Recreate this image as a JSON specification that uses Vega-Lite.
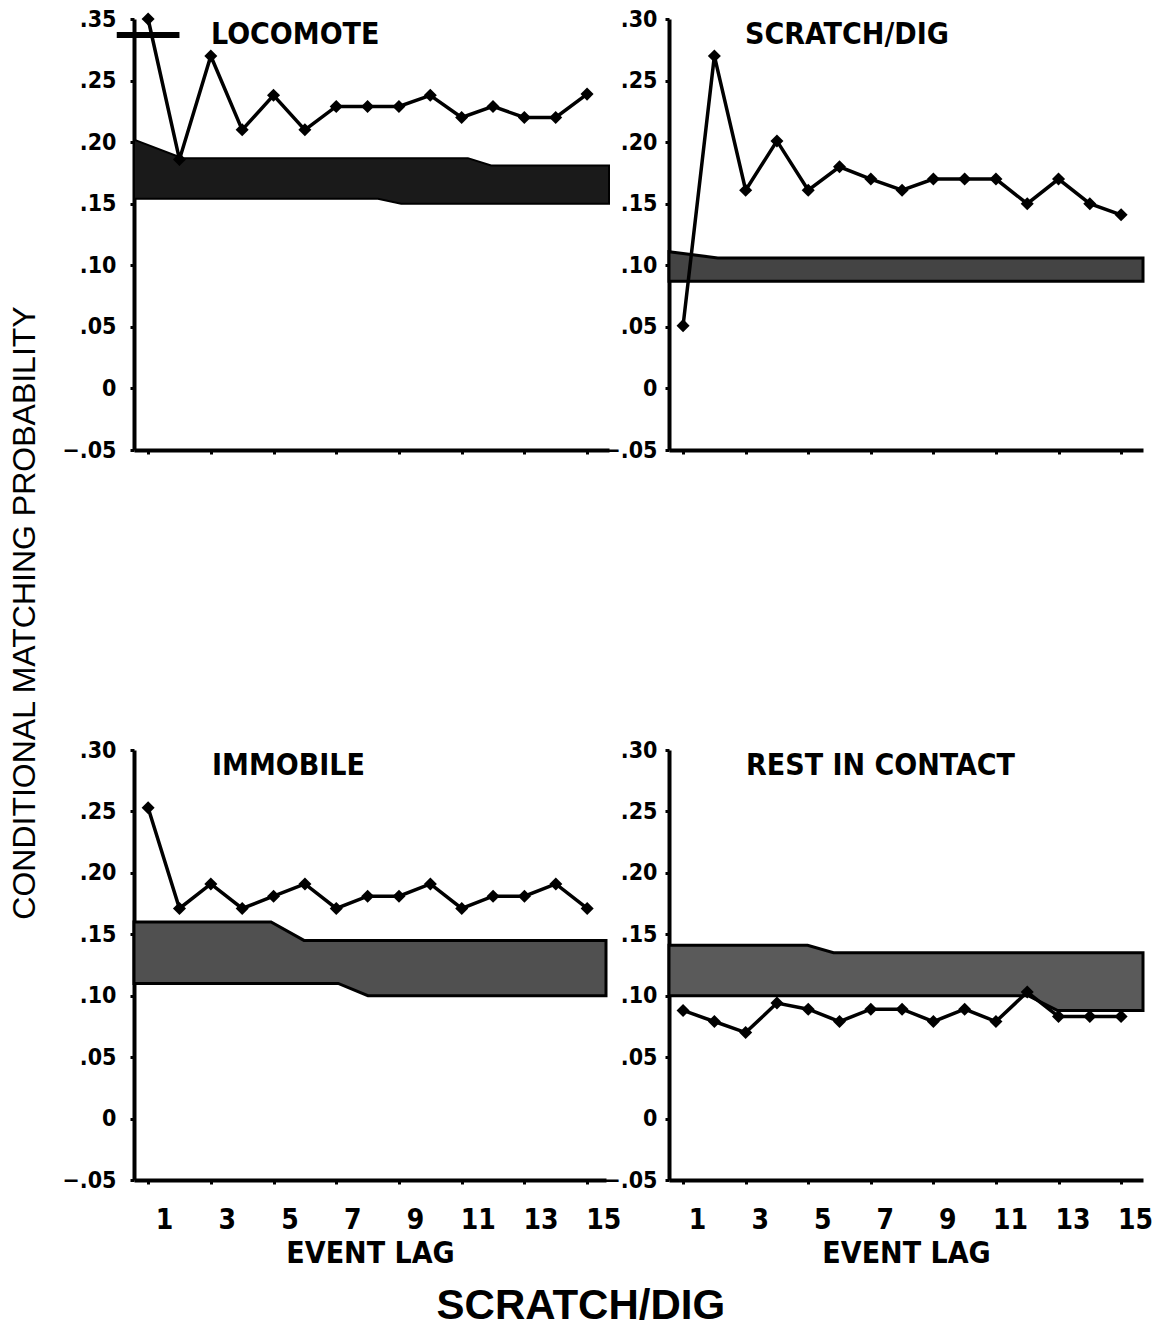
{
  "$schema": "https://vega.github.io/schema/vega-lite/v6.json",
  "background": "white",
  "padding": {"left": 9, "top": 8, "right": 2, "bottom": 5},
  "datasets": {
    "series": [
      {"panel": "LOCOMOTE", "lag": 1, "p": 0.30},
      {"panel": "LOCOMOTE", "lag": 2, "p": 0.186},
      {"panel": "LOCOMOTE", "lag": 3, "p": 0.27},
      {"panel": "LOCOMOTE", "lag": 4, "p": 0.21},
      {"panel": "LOCOMOTE", "lag": 5, "p": 0.238},
      {"panel": "LOCOMOTE", "lag": 6, "p": 0.21},
      {"panel": "LOCOMOTE", "lag": 7, "p": 0.229},
      {"panel": "LOCOMOTE", "lag": 8, "p": 0.229},
      {"panel": "LOCOMOTE", "lag": 9, "p": 0.229},
      {"panel": "LOCOMOTE", "lag": 10, "p": 0.238},
      {"panel": "LOCOMOTE", "lag": 11, "p": 0.22},
      {"panel": "LOCOMOTE", "lag": 12, "p": 0.229},
      {"panel": "LOCOMOTE", "lag": 13, "p": 0.22},
      {"panel": "LOCOMOTE", "lag": 14, "p": 0.22},
      {"panel": "LOCOMOTE", "lag": 15, "p": 0.239},
      {"panel": "SCRATCH/DIG", "lag": 1, "p": 0.051},
      {"panel": "SCRATCH/DIG", "lag": 2, "p": 0.27},
      {"panel": "SCRATCH/DIG", "lag": 3, "p": 0.161},
      {"panel": "SCRATCH/DIG", "lag": 4, "p": 0.201},
      {"panel": "SCRATCH/DIG", "lag": 5, "p": 0.161},
      {"panel": "SCRATCH/DIG", "lag": 6, "p": 0.18},
      {"panel": "SCRATCH/DIG", "lag": 7, "p": 0.17},
      {"panel": "SCRATCH/DIG", "lag": 8, "p": 0.161},
      {"panel": "SCRATCH/DIG", "lag": 9, "p": 0.17},
      {"panel": "SCRATCH/DIG", "lag": 10, "p": 0.17},
      {"panel": "SCRATCH/DIG", "lag": 11, "p": 0.17},
      {"panel": "SCRATCH/DIG", "lag": 12, "p": 0.15},
      {"panel": "SCRATCH/DIG", "lag": 13, "p": 0.17},
      {"panel": "SCRATCH/DIG", "lag": 14, "p": 0.15},
      {"panel": "SCRATCH/DIG", "lag": 15, "p": 0.141},
      {"panel": "IMMOBILE", "lag": 1, "p": 0.253},
      {"panel": "IMMOBILE", "lag": 2, "p": 0.171},
      {"panel": "IMMOBILE", "lag": 3, "p": 0.191},
      {"panel": "IMMOBILE", "lag": 4, "p": 0.171},
      {"panel": "IMMOBILE", "lag": 5, "p": 0.181},
      {"panel": "IMMOBILE", "lag": 6, "p": 0.191},
      {"panel": "IMMOBILE", "lag": 7, "p": 0.171},
      {"panel": "IMMOBILE", "lag": 8, "p": 0.181},
      {"panel": "IMMOBILE", "lag": 9, "p": 0.181},
      {"panel": "IMMOBILE", "lag": 10, "p": 0.191},
      {"panel": "IMMOBILE", "lag": 11, "p": 0.171},
      {"panel": "IMMOBILE", "lag": 12, "p": 0.181},
      {"panel": "IMMOBILE", "lag": 13, "p": 0.181},
      {"panel": "IMMOBILE", "lag": 14, "p": 0.191},
      {"panel": "IMMOBILE", "lag": 15, "p": 0.171},
      {"panel": "REST IN CONTACT", "lag": 1, "p": 0.088},
      {"panel": "REST IN CONTACT", "lag": 2, "p": 0.079},
      {"panel": "REST IN CONTACT", "lag": 3, "p": 0.07},
      {"panel": "REST IN CONTACT", "lag": 4, "p": 0.094},
      {"panel": "REST IN CONTACT", "lag": 5, "p": 0.089},
      {"panel": "REST IN CONTACT", "lag": 6, "p": 0.079},
      {"panel": "REST IN CONTACT", "lag": 7, "p": 0.089},
      {"panel": "REST IN CONTACT", "lag": 8, "p": 0.089},
      {"panel": "REST IN CONTACT", "lag": 9, "p": 0.079},
      {"panel": "REST IN CONTACT", "lag": 10, "p": 0.089},
      {"panel": "REST IN CONTACT", "lag": 11, "p": 0.079},
      {"panel": "REST IN CONTACT", "lag": 12, "p": 0.103},
      {"panel": "REST IN CONTACT", "lag": 13, "p": 0.083},
      {"panel": "REST IN CONTACT", "lag": 14, "p": 0.083},
      {"panel": "REST IN CONTACT", "lag": 15, "p": 0.083}
    ],
    "bands": [
      {"panel": "LOCOMOTE", "lag": 0.55, "lo": 0.154, "hi": 0.202},
      {"panel": "LOCOMOTE", "lag": 2.1, "lo": 0.154, "hi": 0.187},
      {"panel": "LOCOMOTE", "lag": 8.33, "lo": 0.154, "hi": 0.187},
      {"panel": "LOCOMOTE", "lag": 9.07, "lo": 0.150, "hi": 0.187},
      {"panel": "LOCOMOTE", "lag": 11.2, "lo": 0.150, "hi": 0.187},
      {"panel": "LOCOMOTE", "lag": 11.94, "lo": 0.150, "hi": 0.181},
      {"panel": "LOCOMOTE", "lag": 15.7, "lo": 0.150, "hi": 0.181},
      {"panel": "SCRATCH/DIG", "lag": 0.55, "lo": 0.087, "hi": 0.111},
      {"panel": "SCRATCH/DIG", "lag": 2.11, "lo": 0.087, "hi": 0.106},
      {"panel": "SCRATCH/DIG", "lag": 15.7, "lo": 0.087, "hi": 0.106},
      {"panel": "IMMOBILE", "lag": 0.55, "lo": 0.11, "hi": 0.16},
      {"panel": "IMMOBILE", "lag": 4.92, "lo": 0.11, "hi": 0.16},
      {"panel": "IMMOBILE", "lag": 5.97, "lo": 0.11, "hi": 0.145},
      {"panel": "IMMOBILE", "lag": 7.06, "lo": 0.11, "hi": 0.145},
      {"panel": "IMMOBILE", "lag": 8.01, "lo": 0.10, "hi": 0.145},
      {"panel": "IMMOBILE", "lag": 15.6, "lo": 0.10, "hi": 0.145},
      {"panel": "REST IN CONTACT", "lag": 0.55, "lo": 0.10, "hi": 0.141},
      {"panel": "REST IN CONTACT", "lag": 4.98, "lo": 0.10, "hi": 0.141},
      {"panel": "REST IN CONTACT", "lag": 5.81, "lo": 0.10, "hi": 0.135},
      {"panel": "REST IN CONTACT", "lag": 12.03, "lo": 0.10, "hi": 0.135},
      {"panel": "REST IN CONTACT", "lag": 12.96, "lo": 0.088, "hi": 0.135},
      {"panel": "REST IN CONTACT", "lag": 15.7, "lo": 0.088, "hi": 0.135}
    ]
  },
  "config": {
    "view": {"stroke": null},
    "font": "DejaVu Sans Condensed, Liberation Sans, sans-serif",
    "axis": {
      "grid": false,
      "domainColor": "black",
      "domainWidth": 4,
      "tickColor": "black",
      "tickWidth": 3,
      "tickSize": 4,
      "labelColor": "black",
      "labelFont": "DejaVu Sans Condensed, Liberation Sans, sans-serif",
      "labelFontWeight": "bold",
      "titleColor": "black",
      "titleFont": "DejaVu Sans Condensed, Liberation Sans, sans-serif",
      "titleFontWeight": "bold"
    },
    "title": {"color": "black"}
  },
  "title": {
    "text": "SCRATCH/DIG",
    "orient": "bottom",
    "anchor": "middle",
    "font": "Liberation Sans",
    "fontSize": 42,
    "fontWeight": "bold",
    "offset": 18
  },
  "vconcat": [
    {
      "title": {
        "text": "CONDITIONAL MATCHING PROBABILITY",
        "orient": "left",
        "anchor": "middle",
        "font": "Liberation Sans",
        "fontSize": 32,
        "fontWeight": "normal",
        "offset": 20,
        "dx": 25
      },
      "columns": 2,
      "bounds": "flush",
      "spacing": {"row": 300, "column": 60},
      "concat": [
        {
          "width": 475,
          "height": 431,
          "title": {"text": "LOCOMOTE", "anchor": "start", "frame": "group", "dx": 77, "dy": 42, "fontSize": 30, "fontWeight": "bold", "font": "DejaVu Sans Condensed, Liberation Sans, sans-serif", "offset": 0},
          "layer": [
            {
              "data": {"name": "bands"},
              "transform": [{"filter": "datum.panel === 'LOCOMOTE'"}],
              "mark": {"type": "area", "color": "#1a1a1a", "stroke": "black", "strokeWidth": 2},
              "encoding": {
                "x": {"field": "lag", "type": "quantitative", "scale": {"domain": [0.55, 15.7], "nice": false, "zero": false},
                      "axis": {"values": [1,2,3,4,5,6,7,8,9,10,11,12,13,14,15], "labels": false, "title": null}},
                "y": {"field": "lo", "type": "quantitative", "scale": {"domain": [-0.05, 0.30], "nice": false, "zero": false},
                      "axis": {"values": [-0.05, 0, 0.05, 0.1, 0.15, 0.2, 0.25, 0.3], "title": null, "labelFontSize": 23, "labelPadding": 14,
                               "labelExpr": "datum.value >= 0.299 ? '.35' : (datum.value == 0 ? '0' : replace(format(datum.value, '.2f'), '0.', '.'))"}},
                "y2": {"field": "hi"}
              }
            },
            {
              "data": {"name": "series"},
              "transform": [{"filter": "datum.panel === 'LOCOMOTE'"}],
              "mark": {"type": "line", "color": "black", "strokeWidth": 3.5, "point": {"shape": "diamond", "size": 170, "filled": true, "color": "black"}},
              "encoding": {
                "x": {"field": "lag", "type": "quantitative"},
                "y": {"field": "p", "type": "quantitative"}
              }
            },
            {
              "data": {"values": [{}]},
              "mark": {"type": "rule", "color": "black", "strokeWidth": 6},
              "encoding": {
                "x": {"datum": 0.0, "type": "quantitative"},
                "x2": {"datum": 2.0},
                "y": {"datum": 0.287, "type": "quantitative"}
              }
            }
          ]
        },
        {
          "width": 474,
          "height": 431,
          "title": {"text": "SCRATCH/DIG", "anchor": "start", "frame": "group", "dx": 76, "dy": 42, "fontSize": 30, "fontWeight": "bold", "font": "DejaVu Sans Condensed, Liberation Sans, sans-serif", "offset": 0},
          "layer": [
            {
              "data": {"name": "bands"},
              "transform": [{"filter": "datum.panel === 'SCRATCH/DIG'"}],
              "mark": {"type": "area", "color": "#444444", "stroke": "black", "strokeWidth": 3},
              "encoding": {
                "x": {"field": "lag", "type": "quantitative", "scale": {"domain": [0.55, 15.7], "nice": false, "zero": false},
                      "axis": {"values": [1,2,3,4,5,6,7,8,9,10,11,12,13,14,15], "labels": false, "title": null}},
                "y": {"field": "lo", "type": "quantitative", "scale": {"domain": [-0.05, 0.30], "nice": false, "zero": false},
                      "axis": {"values": [-0.05, 0, 0.05, 0.1, 0.15, 0.2, 0.25, 0.3], "title": null, "labelFontSize": 23, "labelPadding": 8,
                               "labelExpr": "datum.value == 0 ? '0' : replace(format(datum.value, '.2f'), '0.', '.')"}},
                "y2": {"field": "hi"}
              }
            },
            {
              "data": {"name": "series"},
              "transform": [{"filter": "datum.panel === 'SCRATCH/DIG'"}],
              "mark": {"type": "line", "color": "black", "strokeWidth": 3.5, "point": {"shape": "diamond", "size": 170, "filled": true, "color": "black"}},
              "encoding": {
                "x": {"field": "lag", "type": "quantitative"},
                "y": {"field": "p", "type": "quantitative"}
              }
            }
          ]
        },
        {
          "width": 472,
          "height": 430,
          "title": {"text": "IMMOBILE", "anchor": "start", "frame": "group", "dx": 78, "dy": 42, "fontSize": 30, "fontWeight": "bold", "font": "DejaVu Sans Condensed, Liberation Sans, sans-serif", "offset": 0},
          "layer": [
            {
              "data": {"name": "bands"},
              "transform": [{"filter": "datum.panel === 'IMMOBILE'"}],
              "mark": {"type": "area", "color": "#505050", "stroke": "black", "strokeWidth": 3},
              "encoding": {
                "x": {"field": "lag", "type": "quantitative", "scale": {"domain": [0.55, 15.6], "nice": false, "zero": false},
                      "axis": {"values": [1,2,3,4,5,6,7,8,9,10,11,12,13,14,15], "title": "EVENT LAG", "titleFontSize": 30, "titlePadding": 4,
                               "labelFontSize": 28, "labelPadding": 22, "labelOffset": 16, "labelOverlap": false, "labelFlush": false,
                               "labelExpr": "datum.value % 2 == 1 ? datum.label : ''"}},
                "y": {"field": "lo", "type": "quantitative", "scale": {"domain": [-0.05, 0.30], "nice": false, "zero": false},
                      "axis": {"values": [-0.05, 0, 0.05, 0.1, 0.15, 0.2, 0.25, 0.3], "title": null, "labelFontSize": 23, "labelPadding": 14,
                               "labelExpr": "datum.value == 0 ? '0' : replace(format(datum.value, '.2f'), '0.', '.')"}},
                "y2": {"field": "hi"}
              }
            },
            {
              "data": {"name": "series"},
              "transform": [{"filter": "datum.panel === 'IMMOBILE'"}],
              "mark": {"type": "line", "color": "black", "strokeWidth": 3.5, "point": {"shape": "diamond", "size": 170, "filled": true, "color": "black"}},
              "encoding": {
                "x": {"field": "lag", "type": "quantitative"},
                "y": {"field": "p", "type": "quantitative"}
              }
            }
          ]
        },
        {
          "width": 474,
          "height": 430,
          "title": {"text": "REST IN CONTACT", "anchor": "start", "frame": "group", "dx": 77, "dy": 42, "fontSize": 30, "fontWeight": "bold", "font": "DejaVu Sans Condensed, Liberation Sans, sans-serif", "offset": 0},
          "layer": [
            {
              "data": {"name": "bands"},
              "transform": [{"filter": "datum.panel === 'REST IN CONTACT'"}],
              "mark": {"type": "area", "color": "#5a5a5a", "stroke": "black", "strokeWidth": 3},
              "encoding": {
                "x": {"field": "lag", "type": "quantitative", "scale": {"domain": [0.55, 15.7], "nice": false, "zero": false},
                      "axis": {"values": [1,2,3,4,5,6,7,8,9,10,11,12,13,14,15], "title": "EVENT LAG", "titleFontSize": 30, "titlePadding": 4,
                               "labelFontSize": 28, "labelPadding": 22, "labelOffset": 14, "labelOverlap": false, "labelFlush": false,
                               "labelExpr": "datum.value % 2 == 1 ? datum.label : ''"}},
                "y": {"field": "lo", "type": "quantitative", "scale": {"domain": [-0.05, 0.30], "nice": false, "zero": false},
                      "axis": {"values": [-0.05, 0, 0.05, 0.1, 0.15, 0.2, 0.25, 0.3], "title": null, "labelFontSize": 23, "labelPadding": 8,
                               "labelExpr": "datum.value == 0 ? '0' : replace(format(datum.value, '.2f'), '0.', '.')"}},
                "y2": {"field": "hi"}
              }
            },
            {
              "data": {"name": "series"},
              "transform": [{"filter": "datum.panel === 'REST IN CONTACT'"}],
              "mark": {"type": "line", "color": "black", "strokeWidth": 3.5, "point": {"shape": "diamond", "size": 170, "filled": true, "color": "black"}},
              "encoding": {
                "x": {"field": "lag", "type": "quantitative"},
                "y": {"field": "p", "type": "quantitative"}
              }
            }
          ]
        }
      ]
    }
  ]
}
